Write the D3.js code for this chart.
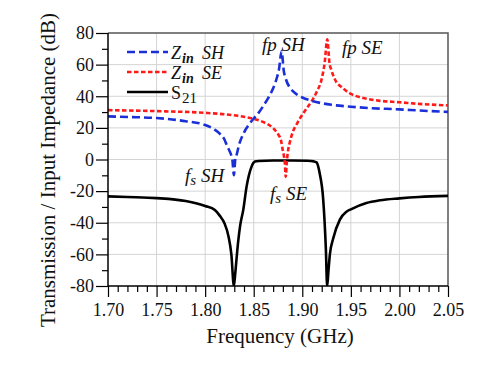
<!DOCTYPE html>
<html>
<head>
<meta charset="utf-8">
<script src="https://cdn.jsdelivr.net/npm/d3@7"></script>
<style>
  html, body { margin: 0; padding: 0; background: #fff; }
  svg { display: block; }
  text { font-family: "Liberation Serif", "Times New Roman", serif; }
</style>
</head>
<body>
<svg id="chart" width="500" height="368"></svg>
<script>
// ---- data ----
const freqSH = [1.70,1.72,1.75,1.78,1.80,1.81,1.815,1.82,1.822,1.825,1.827,1.828,1.8296,1.831,1.832,1.835,1.84,1.845,1.85,1.855,1.86,1.865,1.87,1.874,1.876,1.8787,1.881,1.883,1.887,1.89,1.895,1.90,1.91,1.92,1.93,1.95,1.97,2.00,2.02,2.05];
const zinSH  = [27.3,26.9,26.2,24.2,21.8,18.8,16.4,12.5,9.5,5.5,2.5,0,-10,0,2.0,9.5,17.0,22.0,25.9,29.5,34.0,39.0,45.0,52.0,57.0,68.5,55.8,51.0,45.6,43.4,40.9,39.2,37.1,35.6,34.6,33.4,32.5,31.7,31.0,30.1];

const freqSE = [1.70,1.75,1.80,1.82,1.84,1.85,1.86,1.87,1.875,1.878,1.880,1.881,1.882,1.883,1.884,1.885,1.887,1.890,1.895,1.900,1.905,1.910,1.915,1.920,1.923,1.9257,1.928,1.930,1.935,1.940,1.950,1.960,1.970,1.980,2.000,2.020,2.050];
const zinSE  = [31.2,30.6,29.5,28.6,27.0,25.8,23.6,19.8,16.0,12.4,5.5,2.5,-2.0,-11,-2.0,4.0,10.5,17.0,23.2,28.3,32.8,37.2,43.0,51.0,61.0,76.0,61.0,56.5,49.0,46.0,41.5,39.3,38.0,37.1,36.2,35.2,34.2];

const freqS21 = [1.70,1.72,1.75,1.78,1.80,1.81,1.815,1.82,1.824,1.827,1.8296,1.831,1.8323,1.834,1.836,1.8392,1.8427,1.8478,1.8512,1.855,1.87,1.89,1.905,1.912,1.9147,1.918,1.9215,1.9243,1.9256,1.927,1.9284,1.9318,1.9387,1.9455,1.95,1.966,1.98,2.00,2.02,2.05];
const s21     = [-23.3,-23.7,-24.4,-26.3,-29.4,-32.0,-35.5,-40.5,-48.5,-60,-80,-72,-63,-52,-42,-32,-17,-4.5,-1.3,-0.9,-0.6,-0.6,-0.8,-1.2,-1.8,-9,-25,-57,-80,-70,-60,-50,-38,-33,-31.5,-27.5,-25.8,-24.6,-23.7,-23.0];

const xTicks = [1.70,1.75,1.80,1.85,1.90,1.95,2.00,2.05];
const xTickLabels = ["1.70","1.75","1.80","1.85","1.90","1.95","2.00","2.05"];
const yTicks = [-80,-60,-40,-20,0,20,40,60,80];
const xMinor = [1.71,1.72,1.73,1.74,1.76,1.77,1.78,1.79,1.81,1.82,1.83,1.84,1.86,1.87,1.88,1.89,1.91,1.92,1.93,1.94,1.96,1.97,1.98,1.99,2.01,2.02,2.03,2.04];
const yMinor = [-70,-50,-30,-10,10,30,50,70];

const xTitle = "Frequency (GHz)";
const yTitle = "Transmission / Input Impedance (dB)";

// ---- layout ----
const L = 108, R = 448, T = 33, B = 286;
const svg = d3.select("#chart");
const x = d3.scaleLinear().domain([1.70, 2.05]).range([L, R]);
const y = d3.scaleLinear().domain([-80, 80]).range([B, T]);

// grid
const grid = svg.append("g").attr("stroke", "#d4d4d4").attr("stroke-width", 1);
grid.selectAll("line.gx").data(xTicks.slice(1, -1)).join("line")
  .attr("x1", d => x(d)).attr("x2", d => x(d)).attr("y1", T).attr("y2", B);
grid.selectAll("line.gy").data(yTicks.slice(1, -1)).join("line")
  .attr("x1", L).attr("x2", R).attr("y1", d => y(d)).attr("y2", d => y(d));

// frame top/right
svg.append("path")
  .attr("d", `M${L},${T}H${R}V${B}`)
  .attr("fill", "none").attr("stroke", "#555").attr("stroke-width", 1.5);

// clip
svg.append("clipPath").attr("id", "clip").append("rect")
  .attr("x", L).attr("y", T - 2).attr("width", R - L).attr("height", B - T + 2);

const line = (xs, ys) => d3.line()
  .x((d, i) => x(xs[i])).y(d => y(d))
  .curve(d3.curveMonotoneX)(ys);

const plot = svg.append("g").attr("clip-path", "url(#clip)");
plot.append("path").attr("d", line(freqS21, s21))
  .attr("fill", "none").attr("stroke", "#000").attr("stroke-width", 2.6)
  .attr("stroke-linejoin", "round");
plot.append("path").attr("d", line(freqSE, zinSE))
  .attr("fill", "none").attr("stroke", "#ff1a1a").attr("stroke-width", 2.6)
  .attr("stroke-dasharray", "4.5,2.5");
plot.append("path").attr("d", line(freqSH, zinSH))
  .attr("fill", "none").attr("stroke", "#1a2fd8").attr("stroke-width", 2.6)
  .attr("stroke-dasharray", "8,4");

// axes
const xAxis = d3.axisBottom(x).tickValues(xTicks).tickFormat((d, i) => xTickLabels[i])
  .tickSize(11).tickSizeOuter(0).tickPadding(6);
const gx = svg.append("g").attr("transform", `translate(0,${B})`).call(xAxis);
gx.selectAll("text").attr("font-size", 18).attr("fill", "#111");
const xMinorAxis = d3.axisBottom(x).tickValues(xMinor).tickFormat("").tickSize(6).tickSizeOuter(0);
const gxm = svg.append("g").attr("transform", `translate(0,${B})`).call(xMinorAxis);
gxm.select(".domain").remove();

const yAxis = d3.axisLeft(y).tickValues(yTicks).tickFormat(d => String(d))
  .tickSize(12).tickSizeOuter(0).tickPadding(2);
const gy = svg.append("g").attr("transform", `translate(${L},0)`).call(yAxis);
gy.selectAll("text").attr("font-size", 18).attr("fill", "#111");
const yMinorAxis = d3.axisLeft(y).tickValues(yMinor).tickFormat("").tickSize(6).tickSizeOuter(0);
const gym = svg.append("g").attr("transform", `translate(${L},0)`).call(yMinorAxis);
gym.select(".domain").remove();
svg.selectAll(".tick line").attr("stroke-width", 1.2);
gx.select(".domain").attr("d", `M${L},0H${R}`).attr("stroke-width", 1.5);
gy.select(".domain").attr("d", `M0,${T}V${B}`).attr("stroke-width", 1.5);

// axis titles
svg.append("text").attr("x", 280).attr("y", 343).attr("text-anchor", "middle")
  .attr("font-size", 21).attr("fill", "#111").text(xTitle);
svg.append("text").attr("transform", "translate(55,170) rotate(-90)")
  .attr("text-anchor", "middle").attr("font-size", 21).attr("fill", "#111").text(yTitle);

// legend (separate text pieces so rows do not collide)
const legendRows = [
  {y: 52, color: "#1a2fd8", dash: "8,4", main: "Z", sub: "in", tail: "SH", italic: true},
  {y: 72, color: "#ff1a1a", dash: "4.5,2.5", main: "Z", sub: "in", tail: "SE", italic: true},
  {y: 92, color: "#000", dash: null, main: "S", sub: "21", tail: "", italic: false}
];
legendRows.forEach(e => {
  svg.append("line").attr("x1", 127).attr("x2", 168).attr("y1", e.y).attr("y2", e.y)
    .attr("stroke", e.color).attr("stroke-width", 2.6)
    .attr("stroke-dasharray", e.dash);
  const base = e.y + 6.5;
  const m = svg.append("text").attr("x", 171).attr("y", base).attr("font-size", 18)
    .attr("font-style", e.italic ? "italic" : "normal").attr("fill", "#111").text(e.main);
  const mx = 171 + m.node().getComputedTextLength() + 1;
  const s = svg.append("text").attr("x", mx).attr("y", base + 4)
    .attr("font-size", e.italic ? 14 : 15)
    .attr("font-style", e.italic ? "italic" : "normal")
    .attr("font-weight", e.italic ? "bold" : "normal")
    .attr("fill", "#111").text(e.sub);
  if (e.tail) {
    svg.append("text").attr("x", 202).attr("y", base).attr("font-size", 18)
      .attr("font-style", "italic").attr("fill", "#111").text(e.tail);
  }
});

// annotations
function annot(xp, yp, sub, name, subShift) {
  const t = svg.append("text").attr("x", xp).attr("y", yp).attr("font-size", 19)
    .attr("font-style", "italic").attr("fill", "#111");
  t.append("tspan").text("f");
  t.append("tspan").attr("font-size", subShift ? 15 : 19).attr("dy", subShift).text(sub);
  t.append("tspan").attr("dy", -subShift).text(" " + name);
}
annot(262, 51, "p", "SH", 0);
annot(342, 54, "p", "SE", 0);
annot(185, 182, "s", "SH", 3);
annot(270, 200, "s", "SE", 3);
</script>
</body>
</html>
